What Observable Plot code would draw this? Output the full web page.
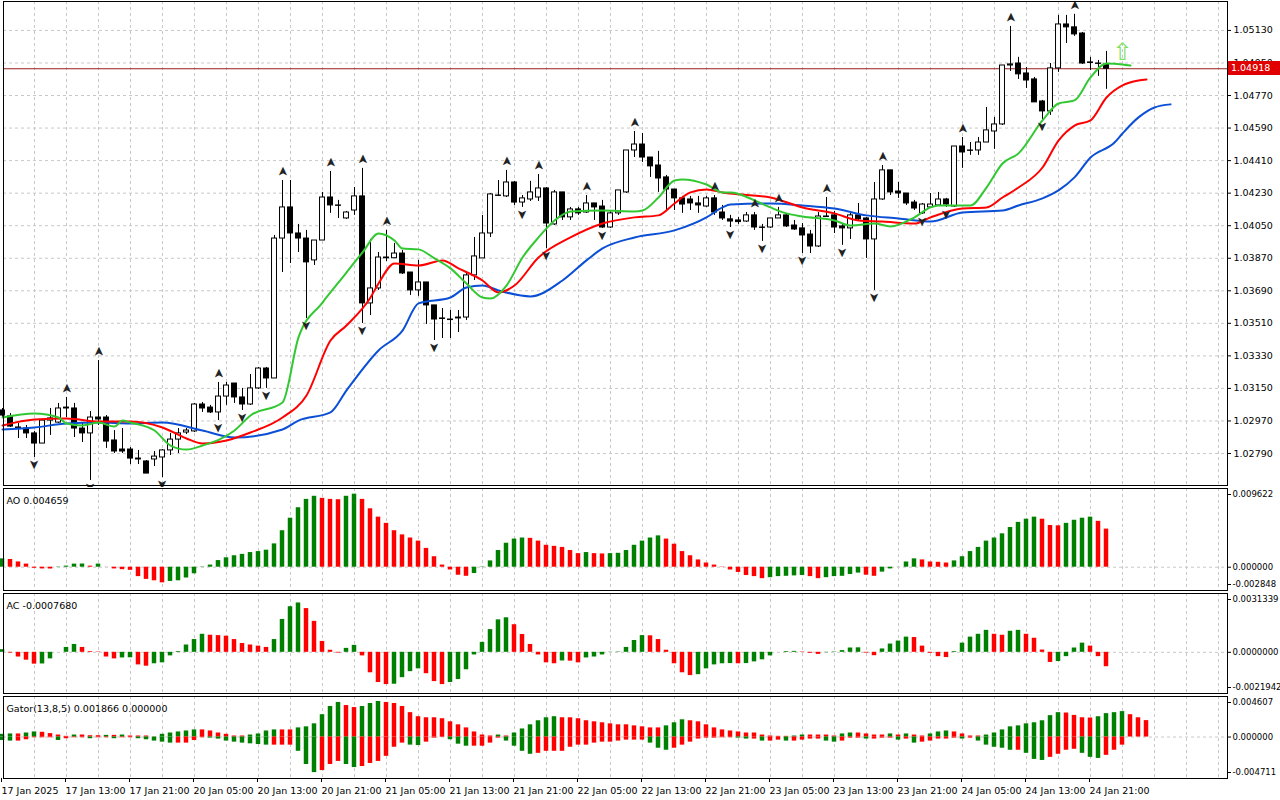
<!DOCTYPE html>
<html><head><meta charset="utf-8">
<script src="https://cdn.jsdelivr.net/npm/d3@7"></script>
<script src="https://cdn.jsdelivr.net/npm/@observablehq/plot@0.6"></script>
<style>
body{margin:0;background:#fff;}
#wrap{position:relative;width:1280px;height:800px;overflow:hidden;font-family:"DejaVu Sans",sans-serif;}
.panel{position:absolute;left:0;}
#plabel{position:absolute;left:1228px;width:52px;height:14px;background:#e00000;color:#fff;font-size:9.5px;line-height:14px;padding-left:3px;box-sizing:border-box;}
</style></head>
<body><div id="wrap"></div>
<script>
const open = [
1.03028,1.02995,1.02934,1.02928,1.02901,1.02845,1.02972,1.02961,1.03044,1.03039,
1.02928,1.02901,1.02989,1.02989,1.02862,1.02812,1.02812,1.02762,1.02746,1.02757,
1.02768,1.02807,1.02867,1.02906,1.02912,1.03061,1.03044,1.03017,1.03105,1.03177,
1.03100,1.03061,1.03150,1.03260,1.03205,1.03979,1.04151,1.04007,1.03979,1.03858,
1.03968,1.04206,1.04162,1.04090,1.04134,1.04212,1.03620,1.03703,1.03874,1.03870,
1.03896,1.03791,1.03692,1.03736,1.03609,1.03537,1.03531,1.03542,1.03542,1.03775,
1.03869,1.04007,1.04217,1.04212,1.04289,1.04178,1.04195,1.04206,1.04256,1.04057,
1.04234,1.04096,1.04140,1.04123,1.04173,1.04156,1.04040,1.04118,1.04234,1.04466,
1.04499,1.04427,1.04383,1.04317,1.04250,1.04201,1.04195,1.04173,1.04156,1.04201,
1.04123,1.04085,1.04079,1.04073,1.04107,1.04040,1.04040,1.04090,1.04107,1.04051,
1.04035,1.04001,1.03935,1.04101,1.04107,1.04046,1.04035,1.04107,1.04090,1.03974,
1.04195,1.04356,1.04239,1.04228,1.04178,1.04118,1.04151,1.04162,1.04195,1.04156,
1.04488,1.04466,1.04466,1.04510,1.04571,1.04610,1.04936,1.04947,1.04892,1.04859,
1.04737,1.04682,1.04920,1.05163,1.05147,1.05113,1.04953,1.04947,1.04942];
const high = [
1.03039,1.03011,1.02956,1.02945,1.02912,1.02978,1.03039,1.03067,1.03100,1.03067,
1.02956,1.03022,1.03304,1.03000,1.02917,1.02928,1.02823,1.02807,1.02751,1.02801,
1.02812,1.02901,1.02928,1.02928,1.03067,1.03072,1.03056,1.03183,1.03183,1.03177,
1.03150,1.03227,1.03266,1.03266,1.03996,1.04300,1.04300,1.04057,1.04024,1.03968,
1.04234,1.04350,1.04190,1.04129,1.04261,1.04367,1.03974,1.03902,1.04024,1.03952,
1.03913,1.03791,1.03858,1.03736,1.03609,1.03592,1.03581,1.03581,1.03786,1.03985,
1.04107,1.04228,1.04300,1.04356,1.04295,1.04217,1.04295,1.04333,1.04261,1.04245,
1.04234,1.04151,1.04151,1.04217,1.04173,1.04190,1.04134,1.04245,1.04466,1.04571,
1.04560,1.04427,1.04461,1.04328,1.04250,1.04212,1.04212,1.04212,1.04212,1.04217,
1.04162,1.04107,1.04096,1.04123,1.04123,1.04057,1.04090,1.04151,1.04112,1.04079,
1.04062,1.04024,1.04123,1.04206,1.04129,1.04062,1.04123,1.04173,1.04096,1.04289,
1.04383,1.04356,1.04289,1.04228,1.04190,1.04173,1.04228,1.04234,1.04201,1.04488,
1.04538,1.04510,1.04538,1.04704,1.04649,1.04936,1.05152,1.04981,1.04925,1.04870,
1.04743,1.04947,1.05213,1.05213,1.05219,1.05119,1.04981,1.04964,1.05014];
const low = [
1.02984,1.02934,1.02873,1.02873,1.02768,1.02845,1.02890,1.02956,1.02989,1.02878,
1.02851,1.02641,1.02945,1.02818,1.02790,1.02790,1.02729,1.02729,1.02679,1.02718,
1.02657,1.02779,1.02790,1.02895,1.02906,1.03017,1.03011,1.02972,1.03056,1.03067,
1.03028,1.03056,1.03144,1.03150,1.03205,1.03791,1.03841,1.03902,1.03537,1.03830,
1.03968,1.04118,1.04090,1.04085,1.04107,1.03509,1.03553,1.03692,1.03852,1.03869,
1.03780,1.03664,1.03659,1.03504,1.03415,1.03426,1.03426,1.03459,1.03526,1.03747,
1.03869,1.03985,1.04212,1.04206,1.04162,1.04151,1.04184,1.04184,1.03924,1.04051,
1.04079,1.04079,1.04107,1.04118,1.04079,1.04035,1.04035,1.04107,1.04228,1.04427,
1.04400,1.04317,1.04234,1.04134,1.04134,1.04118,1.04134,1.04118,1.04151,1.04107,
1.04079,1.04040,1.04057,1.04068,1.04024,1.03963,1.04035,1.04090,1.04040,1.04024,
1.03896,1.03896,1.03930,1.04096,1.04007,1.03941,1.03974,1.04079,1.03869,1.03692,
1.04190,1.04217,1.04201,1.04162,1.04134,1.04112,1.04145,1.04156,1.04151,1.04151,
1.04367,1.04439,1.04439,1.04510,1.04472,1.04604,1.04903,1.04859,1.04809,1.04732,
1.04638,1.04660,1.04898,1.05058,1.05097,1.04942,1.04909,1.04876,1.04804];
const close = [
1.03000,1.02939,1.02928,1.02901,1.02845,1.02972,1.02984,1.03039,1.03039,1.02928,
1.02901,1.02989,1.02978,1.02856,1.02801,1.02801,1.02762,1.02757,1.02679,1.02773,
1.02807,1.02867,1.02901,1.02917,1.03061,1.03039,1.03017,1.03105,1.03166,1.03100,
1.03061,1.03150,1.03260,1.03205,1.03979,1.04151,1.04007,1.03979,1.03847,1.03968,
1.04206,1.04162,1.04160,1.04123,1.04212,1.03620,1.03703,1.03874,1.03870,1.03896,
1.03786,1.03692,1.03736,1.03609,1.03531,1.03534,1.03528,1.03537,1.03775,1.03880,
1.04007,1.04223,1.04215,1.04289,1.04178,1.04201,1.04234,1.04256,1.04062,1.04234,
1.04096,1.04140,1.04118,1.04173,1.04151,1.04040,1.04118,1.04245,1.04466,1.04499,
1.04427,1.04378,1.04311,1.04250,1.04201,1.04167,1.04173,1.04162,1.04201,1.04123,
1.04090,1.04073,1.04070,1.04107,1.04040,1.04038,1.04090,1.04107,1.04046,1.04029,
1.03996,1.03935,1.04101,1.04098,1.04040,1.04035,1.04107,1.04085,1.03974,1.04195,
1.04356,1.04234,1.04228,1.04173,1.04145,1.04167,1.04167,1.04195,1.04167,1.04488,
1.04455,1.04464,1.04510,1.04577,1.04610,1.04936,1.04942,1.04887,1.04853,1.04732,
1.04682,1.04920,1.05163,1.05147,1.05108,1.04947,1.04950,1.04945,1.04918];

const jawBars = [0,4,8,12,16,20,25,29,35,37,41,43,47,50,52,56,58,60,62,66,70,73,75,79,84,88,90,91,96,100,104,108,112,116,120,125,127,130,132,134,136,139,140,142,144,146];
const jawVals = [1.02923,1.02934,1.02956,1.02961,1.02956,1.02961,1.02917,1.02878,1.02923,1.02972,1.03017,1.03139,1.03360,1.03470,1.03620,1.03653,1.03708,1.03719,1.03692,1.03659,1.03747,1.03858,1.03924,1.03985,1.04024,1.04096,1.04151,1.04167,1.04173,1.04162,1.04145,1.04107,1.04090,1.04073,1.04123,1.04134,1.04162,1.04201,1.04245,1.04317,1.04427,1.04510,1.04560,1.04649,1.04704,1.04721];
const teethBars = [0,4,8,12,16,20,23,25,28,31,35,38,41,43,46,47,49,52,55,57,60,62,64,67,71,75,79,82,84,86,88,90,91,96,100,104,107,110,114,116,120,123,125,127,130,132,134,136,138,140,142,143];
const teethVals = [1.02945,1.02978,1.02984,1.02967,1.02967,1.02934,1.02873,1.02845,1.02862,1.02906,1.02989,1.03111,1.03415,1.03498,1.03653,1.03730,1.03841,1.03830,1.03858,1.03814,1.03747,1.03681,1.03719,1.03874,1.03985,1.04062,1.04096,1.04107,1.04173,1.04234,1.04250,1.04234,1.04228,1.04206,1.04151,1.04118,1.04079,1.04073,1.04062,1.04096,1.04145,1.04151,1.04206,1.04261,1.04372,1.04521,1.04604,1.04632,1.04759,1.04826,1.04853,1.04859];
const lipsBars = [0,4,7,8,10,12,14,15,16,19,21,23,25,29,31,35,37,40,42,45,47,49,50,52,54,56,58,60,61,63,65,67,69,71,75,79,80,82,84,85,88,90,91,94,96,98,100,104,106,109,111,114,116,117,121,123,125,127,130,132,134,136,138,140,141];
const lipsVals = [1.02989,1.03011,1.02989,1.02956,1.02945,1.02961,1.02939,1.02972,1.02961,1.02917,1.02834,1.02812,1.02834,1.02917,1.03000,1.03072,1.03432,1.03625,1.03736,1.03902,1.04007,1.03968,1.03924,1.03919,1.03869,1.03814,1.03730,1.03653,1.03647,1.03719,1.03874,1.03985,1.04079,1.04129,1.04134,1.04129,1.04134,1.04206,1.04300,1.04306,1.04278,1.04234,1.04234,1.04190,1.04151,1.04118,1.04101,1.04079,1.04051,1.04062,1.04046,1.04096,1.04151,1.04162,1.04162,1.04261,1.04394,1.04450,1.04632,1.04726,1.04743,1.04870,1.04947,1.04942,1.04936];

const upFractals = [8,12,27,35,41,45,48,63,67,73,79,89,94,97,103,110,120,126,134];
const downFractals = [4,11,20,27,30,33,38,45,54,65,68,75,91,95,100,105,109,115,118,130];
const signalBar = [140];
const signalPrice = [1.05010];
const lastPrice = 1.04918;

const ao = [102e-5,94e-5,64e-5,38e-5,-13e-5,-21e-5,-22e-5,-4e-5,13e-5,38e-5,39e-5,13e-5,38e-5,1e-5,-21e-5,-30e-5,-38e-5,-115e-5,-149e-5,-166e-5,-191e-5,-174e-5,-166e-5,-132e-5,-81e-5,-4e-5,26e-5,81e-5,115e-5,140e-5,157e-5,179e-5,191e-5,208e-5,285e-5,446e-5,599e-5,727e-5,829e-5,867e-5,842e-5,829e-5,825e-5,867e-5,893e-5,829e-5,714e-5,612e-5,536e-5,446e-5,395e-5,357e-5,319e-5,230e-5,128e-5,26e-5,-34e-5,-98e-5,-111e-5,-77e-5,-4e-5,77e-5,204e-5,293e-5,344e-5,357e-5,353e-5,319e-5,268e-5,255e-5,242e-5,204e-5,166e-5,179e-5,166e-5,162e-5,166e-5,170e-5,204e-5,268e-5,319e-5,357e-5,383e-5,344e-5,281e-5,191e-5,140e-5,89e-5,51e-5,26e-5,-4e-5,-34e-5,-64e-5,-102e-5,-115e-5,-140e-5,-128e-5,-115e-5,-111e-5,-106e-5,-102e-5,-115e-5,-140e-5,-128e-5,-115e-5,-111e-5,-89e-5,-72e-5,-98e-5,-111e-5,-60e-5,-21e-5,1e-5,64e-5,102e-5,89e-5,64e-5,60e-5,51e-5,77e-5,128e-5,191e-5,242e-5,319e-5,357e-5,408e-5,485e-5,548e-5,587e-5,612e-5,587e-5,510e-5,506e-5,536e-5,574e-5,599e-5,612e-5,561e-5,465.9e-5];
const ac = [14e-5,-4e-5,-25e-5,-42e-5,-63e-5,-62e-5,-35e-5,0,26e-5,42e-5,26e-5,4e-5,2e-5,-25e-5,-35e-5,-30e-5,-29e-5,-67e-5,-74e-5,-61e-5,-56e-5,-19e-5,4e-5,39e-5,68e-5,96e-5,91e-5,89e-5,86e-5,68e-5,47e-5,39e-5,33e-5,26e-5,68e-5,175e-5,243e-5,263e-5,233e-5,165e-5,58e-5,11e-5,-4e-5,21e-5,37e-5,-19e-5,-109e-5,-161e-5,-172e-5,-170e-5,-135e-5,-103e-5,-88e-5,-114e-5,-156e-5,-172e-5,-161e-5,-145e-5,-93e-5,-14e-5,53e-5,121e-5,173e-5,184e-5,147e-5,95e-5,42e-5,-14e-5,-56e-5,-61e-5,-46e-5,-47e-5,-56e-5,-30e-5,-25e-5,-14e-5,-1e-5,2e-5,26e-5,63e-5,89e-5,88e-5,68e-5,11e-5,-61e-5,-109e-5,-124e-5,-119e-5,-88e-5,-67e-5,-61e-5,-60e-5,-61e-5,-60e-5,-51e-5,-40e-5,-19e-5,0,4e-5,5e-5,2e-5,-5e-5,-11e-5,-2e-5,2e-5,9e-5,23e-5,24e-5,-4e-5,-18e-5,18e-5,44e-5,60e-5,81e-5,79e-5,33e-5,-5e-5,-23e-5,-28e-5,4e-5,49e-5,81e-5,96e-5,117e-5,96e-5,91e-5,112e-5,117e-5,96e-5,75e-5,12e-5,-54e-5,-49e-5,-23e-5,23e-5,49e-5,33e-5,-23e-5,-76.8e-5];
const gatorUp = [31e-5,35e-5,35e-5,46e-5,58e-5,54e-5,39e-5,23e-5,8e-5,23e-5,23e-5,15e-5,15e-5,19e-5,19e-5,23e-5,12e-5,12e-5,12e-5,1e-5,31e-5,46e-5,58e-5,69e-5,81e-5,81e-5,69e-5,46e-5,31e-5,12e-5,12e-5,23e-5,35e-5,69e-5,81e-5,81e-5,81e-5,104e-5,116e-5,150e-5,254e-5,347e-5,393e-5,358e-5,335e-5,347e-5,381e-5,404e-5,393e-5,381e-5,347e-5,277e-5,231e-5,219e-5,219e-5,208e-5,173e-5,139e-5,104e-5,58e-5,23e-5,12e-5,23e-5,12e-5,46e-5,92e-5,139e-5,185e-5,219e-5,231e-5,219e-5,219e-5,208e-5,185e-5,173e-5,162e-5,150e-5,139e-5,139e-5,127e-5,116e-5,104e-5,104e-5,127e-5,162e-5,196e-5,185e-5,173e-5,139e-5,104e-5,81e-5,69e-5,58e-5,46e-5,46e-5,23e-5,12e-5,8e-5,8e-5,12e-5,23e-5,23e-5,23e-5,23e-5,12e-5,35e-5,46e-5,46e-5,35e-5,23e-5,23e-5,35e-5,23e-5,35e-5,23e-5,12e-5,35e-5,58e-5,69e-5,58e-5,35e-5,12e-5,12e-5,23e-5,46e-5,81e-5,116e-5,127e-5,150e-5,162e-5,185e-5,243e-5,277e-5,273e-5,246e-5,219e-5,216e-5,231e-5,266e-5,277e-5,289e-5,254e-5,219e-5,186.6e-5];
const gatorDown = [39e-5,46e-5,46e-5,31e-5,8e-5,8e-5,8e-5,39e-5,19e-5,8e-5,8e-5,19e-5,8e-5,8e-5,19e-5,8e-5,8e-5,19e-5,31e-5,46e-5,58e-5,69e-5,69e-5,69e-5,39e-5,8e-5,12e-5,23e-5,46e-5,58e-5,69e-5,77e-5,85e-5,92e-5,92e-5,92e-5,92e-5,162e-5,312e-5,404e-5,381e-5,312e-5,277e-5,312e-5,347e-5,335e-5,300e-5,277e-5,219e-5,116e-5,69e-5,92e-5,96e-5,58e-5,12e-5,4e-5,31e-5,81e-5,104e-5,104e-5,104e-5,69e-5,12e-5,46e-5,104e-5,162e-5,196e-5,185e-5,162e-5,162e-5,162e-5,116e-5,92e-5,92e-5,69e-5,58e-5,58e-5,46e-5,35e-5,35e-5,35e-5,69e-5,127e-5,150e-5,127e-5,92e-5,58e-5,23e-5,12e-5,12e-5,8e-5,8e-5,12e-5,23e-5,23e-5,46e-5,46e-5,35e-5,46e-5,46e-5,35e-5,23e-5,23e-5,46e-5,58e-5,46e-5,12e-5,12e-5,23e-5,23e-5,12e-5,12e-5,35e-5,23e-5,69e-5,58e-5,46e-5,23e-5,23e-5,12e-5,23e-5,12e-5,46e-5,92e-5,116e-5,127e-5,150e-5,150e-5,185e-5,254e-5,266e-5,231e-5,196e-5,150e-5,139e-5,185e-5,231e-5,243e-5,208e-5,150e-5,92e-5];

const priceTicks = [1.02790,1.02970,1.03150,1.03330,1.03510,1.03690,1.03870,1.04050,1.04230,1.04410,1.04590,1.04770,1.04950,1.05130];
const aoTicks = [-0.002848,0,0.009622];
const acTicks = [-0.0021942,0,0.0031339];
const gatorTicks = [-0.004711,0,0.004607];
const timeBars = [0,8,16,24,32,40,48,56,64,72,80,88,96,104,112,120,128,136];
const timeLabels = ["17 Jan 2025","17 Jan 13:00","17 Jan 21:00","20 Jan 05:00","20 Jan 13:00","20 Jan 21:00","21 Jan 05:00","21 Jan 13:00","21 Jan 21:00","22 Jan 05:00","22 Jan 13:00","22 Jan 21:00","23 Jan 05:00","23 Jan 13:00","23 Jan 21:00","24 Jan 05:00","24 Jan 13:00","24 Jan 21:00"];

const GREEN = "#008000", RED = "#ff0000";
const gridStyle = {stroke:"#c8c8c8", strokeDasharray:"3,3", strokeWidth:1};
const gridBars = d3.range(4, 153, 4);
const X = {type:"linear", domain:[0.125, 153.125], axis:null};
const FONT = "DejaVu Sans";
const wrap = document.getElementById("wrap");
function place(svg, top){ svg.classList.add("panel"); svg.style.top = top+"px"; svg.style.fontFamily = FONT; wrap.appendChild(svg); return svg; }

const candles = open.map((o,i)=>({i, o, h:high[i], l:low[i], c:close[i]}));
const mk = (bs, vs) => bs.map((b,k)=>({b, v:vs[k]}));
const colored = arr => arr.map((v,i)=>({i, v, col: (i===0 || Math.abs(v) > Math.abs(arr[i-1])) ? GREEN : RED}));
const coloredSigned = arr => arr.map((v,i)=>({i, v, col: (i===0 || v > arr[i-1]) ? GREEN : RED}));

const main = Plot.plot({
  width:1280, height:487, marginLeft:3, marginRight:53, marginTop:1, marginBottom:2,
  x: X, y: {domain:[1.02613, 1.05290], axis:null},
  style:{fontFamily:FONT, fontSize:"9.5px", background:"white", overflow:"visible"},
  marks:[
    Plot.ruleX(gridBars, gridStyle),
    Plot.ruleY(priceTicks, gridStyle),
    Plot.ruleY([lastPrice], {stroke:"#9a1c1c", strokeWidth:1}),
    Plot.ruleX(candles, {x:"i", y1:"l", y2:"h", stroke:"black", strokeWidth:1}),
    Plot.rect(candles, {x1:d=>d.i-0.31, x2:d=>d.i+0.31, y1:"o", y2:"c", fill:d=>d.c<d.o?"black":"white", stroke:"black", strokeWidth:1}),
    Plot.line(mk(jawBars, jawVals), {x:"b", y:"v", stroke:"#0a4fd6", strokeWidth:2, curve:"monotone-x"}),
    Plot.line(mk(teethBars, teethVals), {x:"b", y:"v", stroke:"#ff0000", strokeWidth:2, curve:"monotone-x"}),
    Plot.line(mk(lipsBars, lipsVals), {x:"b", y:"v", stroke:"#32c832", strokeWidth:2, curve:"monotone-x"}),
    Plot.text(upFractals, {x:d=>d, y:d=>high[d], text:()=>"➤", rotate:-90, dy:-9, fontSize:13, fill:"#222"}),
    Plot.text(downFractals, {x:d=>d, y:d=>low[d], text:()=>"➤", rotate:90, dy:7, fontSize:13, fill:"#222"}),
    Plot.text(signalBar, {x:d=>d, y:(d,k)=>signalPrice[k], text:()=>"⇧", fontSize:24, fill:"#7ee05a"}),
    Plot.axisY({anchor:"right", ticks:priceTicks, tickFormat:d=>d.toFixed(5), tickSize:3, tickPadding:3, label:null}),
    Plot.frame({stroke:"black"})
  ]
});
place(main, 0);
const py = main.scale("y").apply(lastPrice);
const pl = document.createElement("div"); pl.id="plabel"; pl.style.top=(py-7)+"px"; pl.textContent = lastPrice.toFixed(5); wrap.appendChild(pl);

function sub(top, height, mb, domain, ticks, fmt, title, marks, xaxis){
  const ax = {anchor:"right", tickFormat:fmt, tickSize:3, tickPadding:2, label:null, fontSize:8.5};
  const p = Plot.plot({
    width:1280, height, marginLeft:3, marginRight:53, marginTop:1, marginBottom:mb,
    x: X, y:{domain, axis:null},
    style:{fontFamily:FONT, fontSize:"9.5px", background:"white"},
    marks:[
      Plot.ruleX(gridBars, gridStyle),
      Plot.ruleY([0], gridStyle),
      ...marks,
      Plot.axisY({...ax, ticks:[ticks[1]]}),
      Plot.axisY({...ax, ticks:[ticks[2]], dy:6}),
      Plot.axisY({...ax, ticks:[ticks[0]], dy:-6}),
      ...(xaxis ? [Plot.axisX({anchor:"bottom", ticks:timeBars, tickFormat:d=>timeLabels[timeBars.indexOf(d)], tickSize:4, textAnchor:"start", dx:-1, label:null})] : []),
      Plot.text([title], {frameAnchor:"top-left", text:d=>d, dx:3, dy:9, textAnchor:"start", fontSize:9.5, fill:"black"}),
      Plot.frame({stroke:"black"})
    ]
  });
  return place(p, top);
}
const bw = 0.28;
sub(487, 104, 1, [-0.002848, 0.009622], aoTicks, d=>d.toFixed(6), "AO " + ao[ao.length-1].toFixed(6),
  [Plot.rect(coloredSigned(ao), {x1:d=>d.i-bw, x2:d=>d.i+bw, y1:0, y2:"v", fill:"col"})]);
sub(592, 102, 1, [-0.0021942, 0.0031339], acTicks, d=>d.toFixed(7), "AC " + ac[ac.length-1].toFixed(7),
  [Plot.rect(coloredSigned(ac), {x1:d=>d.i-bw, x2:d=>d.i+bw, y1:0, y2:"v", fill:"col"})]);
sub(695, 105, 22, [-0.004711, 0.004607], gatorTicks, d=>d.toFixed(6), "Gator(13,8,5) " + gatorUp[gatorUp.length-1].toFixed(6) + " 0.000000",
  [Plot.rect(colored(gatorUp), {x1:d=>d.i-bw, x2:d=>d.i+bw, y1:0, y2:"v", fill:"col"}),
   Plot.rect(colored(gatorDown).map(d=>({...d, v:-d.v})), {x1:d=>d.i-bw, x2:d=>d.i+bw, y1:0, y2:"v", fill:"col"})], true);
</script></body></html>
